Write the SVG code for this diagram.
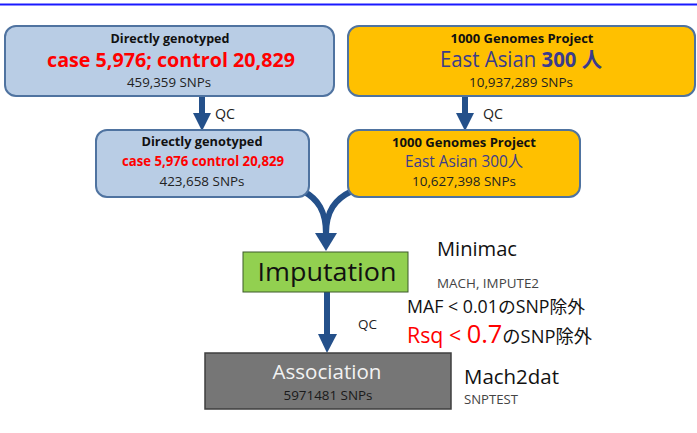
<svg xmlns="http://www.w3.org/2000/svg" width="697" height="433" viewBox="0 0 697 433">
<style>
text{font-family:"Open Sans","Noto Sans CJK JP",sans-serif;}
.b{font-weight:bold;}
.c{text-anchor:middle;}
.blue{fill:#b9cde5;stroke:#4f73a0;stroke-width:2;}
.org{fill:#ffc000;stroke:#4f73a0;stroke-width:2;}
.sh{stroke:#24508a;stroke-width:6;fill:none;}
.hd{fill:#24508a;}
</style>
<rect width="697" height="433" fill="#fff"/>
<line x1="0" y1="4.5" x2="697" y2="4.5" stroke="#1a1aff" stroke-width="2"/>
<g id="connectors">
<line class="sh" x1="202" y1="96" x2="202" y2="114"/>
<polygon class="hd" points="193,113 211,113 202,131"/>
<line class="sh" x1="465" y1="96" x2="465" y2="114"/>
<polygon class="hd" points="456,113 474,113 465,131"/>
<path class="sh" d="M303 191 C318 199 326 211 326 234"/>
<path class="sh" d="M352 191 C335 199 326 211 326 234"/>
<polygon class="hd" points="315,233 337,233 326,251"/>
<line class="sh" x1="327" y1="292" x2="327" y2="335"/>
<polygon class="hd" points="318,334 337,334 327,353"/>
<text x="215" y="119" font-size="14" fill="#222" textLength="20" lengthAdjust="spacingAndGlyphs">QC</text>
<text x="483" y="119" font-size="14" fill="#222" textLength="20" lengthAdjust="spacingAndGlyphs">QC</text>
<text x="358" y="329" font-size="13" fill="#222" textLength="19" lengthAdjust="spacingAndGlyphs">QC</text>
</g>
<g id="genotyped1">
<rect class="blue" x="5" y="26" width="329" height="70" rx="11"/>
<text class="b c" x="170" y="43" font-size="13" fill="#111" textLength="119" lengthAdjust="spacingAndGlyphs">Directly genotyped</text>
<text class="b c" x="171" y="67" font-size="19.5" fill="#ff0000" textLength="248" lengthAdjust="spacingAndGlyphs">case 5,976; control 20,829</text>
<text class="c" x="169" y="87" font-size="13.5" fill="#222" textLength="84" lengthAdjust="spacingAndGlyphs">459,359 SNPs</text>
</g>
<g id="genomes1">
<rect class="org" x="348" y="26" width="347" height="70" rx="11"/>
<text class="b c" x="522" y="43" font-size="13" fill="#111" textLength="143" lengthAdjust="spacingAndGlyphs">1000 Genomes Project</text>
<text class="c" x="521" y="67" font-size="21" fill="#3b3c8c" textLength="162" lengthAdjust="spacingAndGlyphs">East Asian <tspan font-weight="bold">300 人</tspan></text>
<text class="c" x="521" y="87" font-size="13.5" fill="#222" textLength="104" lengthAdjust="spacingAndGlyphs">10,937,289 SNPs</text>
</g>
<g id="genotyped2">
<rect class="blue" x="96" y="130" width="213" height="67" rx="11"/>
<text class="b c" x="202" y="146" font-size="13" fill="#111" textLength="121" lengthAdjust="spacingAndGlyphs">Directly genotyped</text>
<text class="b c" x="203" y="166" font-size="14" fill="#ff0000" textLength="162" lengthAdjust="spacingAndGlyphs">case 5,976 control 20,829</text>
<text class="c" x="202" y="186" font-size="13.5" fill="#222" textLength="85" lengthAdjust="spacingAndGlyphs">423,658 SNPs</text>
</g>
<g id="genomes2">
<rect class="org" x="348" y="130" width="232" height="67" rx="11"/>
<text class="b c" x="464" y="147" font-size="13" fill="#111" textLength="144" lengthAdjust="spacingAndGlyphs">1000 Genomes Project</text>
<text class="c" x="464" y="167" font-size="16" fill="#3b3c8c" textLength="118" lengthAdjust="spacingAndGlyphs">East Asian 300人</text>
<text class="c" x="464" y="186" font-size="13.5" fill="#222" textLength="104" lengthAdjust="spacingAndGlyphs">10,627,398 SNPs</text>
</g>
<g id="imputation">
<rect x="243" y="252" width="165" height="40" fill="#92d050" stroke="#3c5a2a" stroke-width="1"/>
<text class="c" x="327" y="281" font-size="26" fill="#111" textLength="139" lengthAdjust="spacingAndGlyphs">Imputation</text>
</g>
<g id="imputation-notes">
<text x="437" y="256" font-size="20" fill="#111" textLength="80" lengthAdjust="spacingAndGlyphs">Minimac</text>
<text x="437" y="288" font-size="12.5" fill="#444" textLength="102" lengthAdjust="spacingAndGlyphs">MACH, IMPUTE2</text>
<text x="407" y="313" font-size="17.5" fill="#111" textLength="178" lengthAdjust="spacingAndGlyphs">MAF &lt; 0.01のSNP除外</text>
<text x="407" y="343" font-size="18" fill="#111" textLength="185" lengthAdjust="spacingAndGlyphs"><tspan fill="#ff0000" font-size="21">Rsq &lt; </tspan><tspan fill="#ff0000" font-size="25">0.7</tspan><tspan>のSNP除外</tspan></text>
</g>
<g id="association">
<rect x="205" y="353" width="246" height="56" fill="#767676" stroke="#3f3f3f" stroke-width="1.5"/>
<text class="c" x="327" y="379" font-size="20" fill="#f2f2f2" textLength="109" lengthAdjust="spacingAndGlyphs">Association</text>
<text class="c" x="328" y="400" font-size="13.5" fill="#1a1a1a" textLength="89" lengthAdjust="spacingAndGlyphs">5971481 SNPs</text>
</g>
<g id="association-notes">
<text x="464" y="384" font-size="20" fill="#111" textLength="95" lengthAdjust="spacingAndGlyphs">Mach2dat</text>
<text x="464" y="404" font-size="12.5" fill="#444" textLength="54" lengthAdjust="spacingAndGlyphs">SNPTEST</text>
</g>
</svg>
